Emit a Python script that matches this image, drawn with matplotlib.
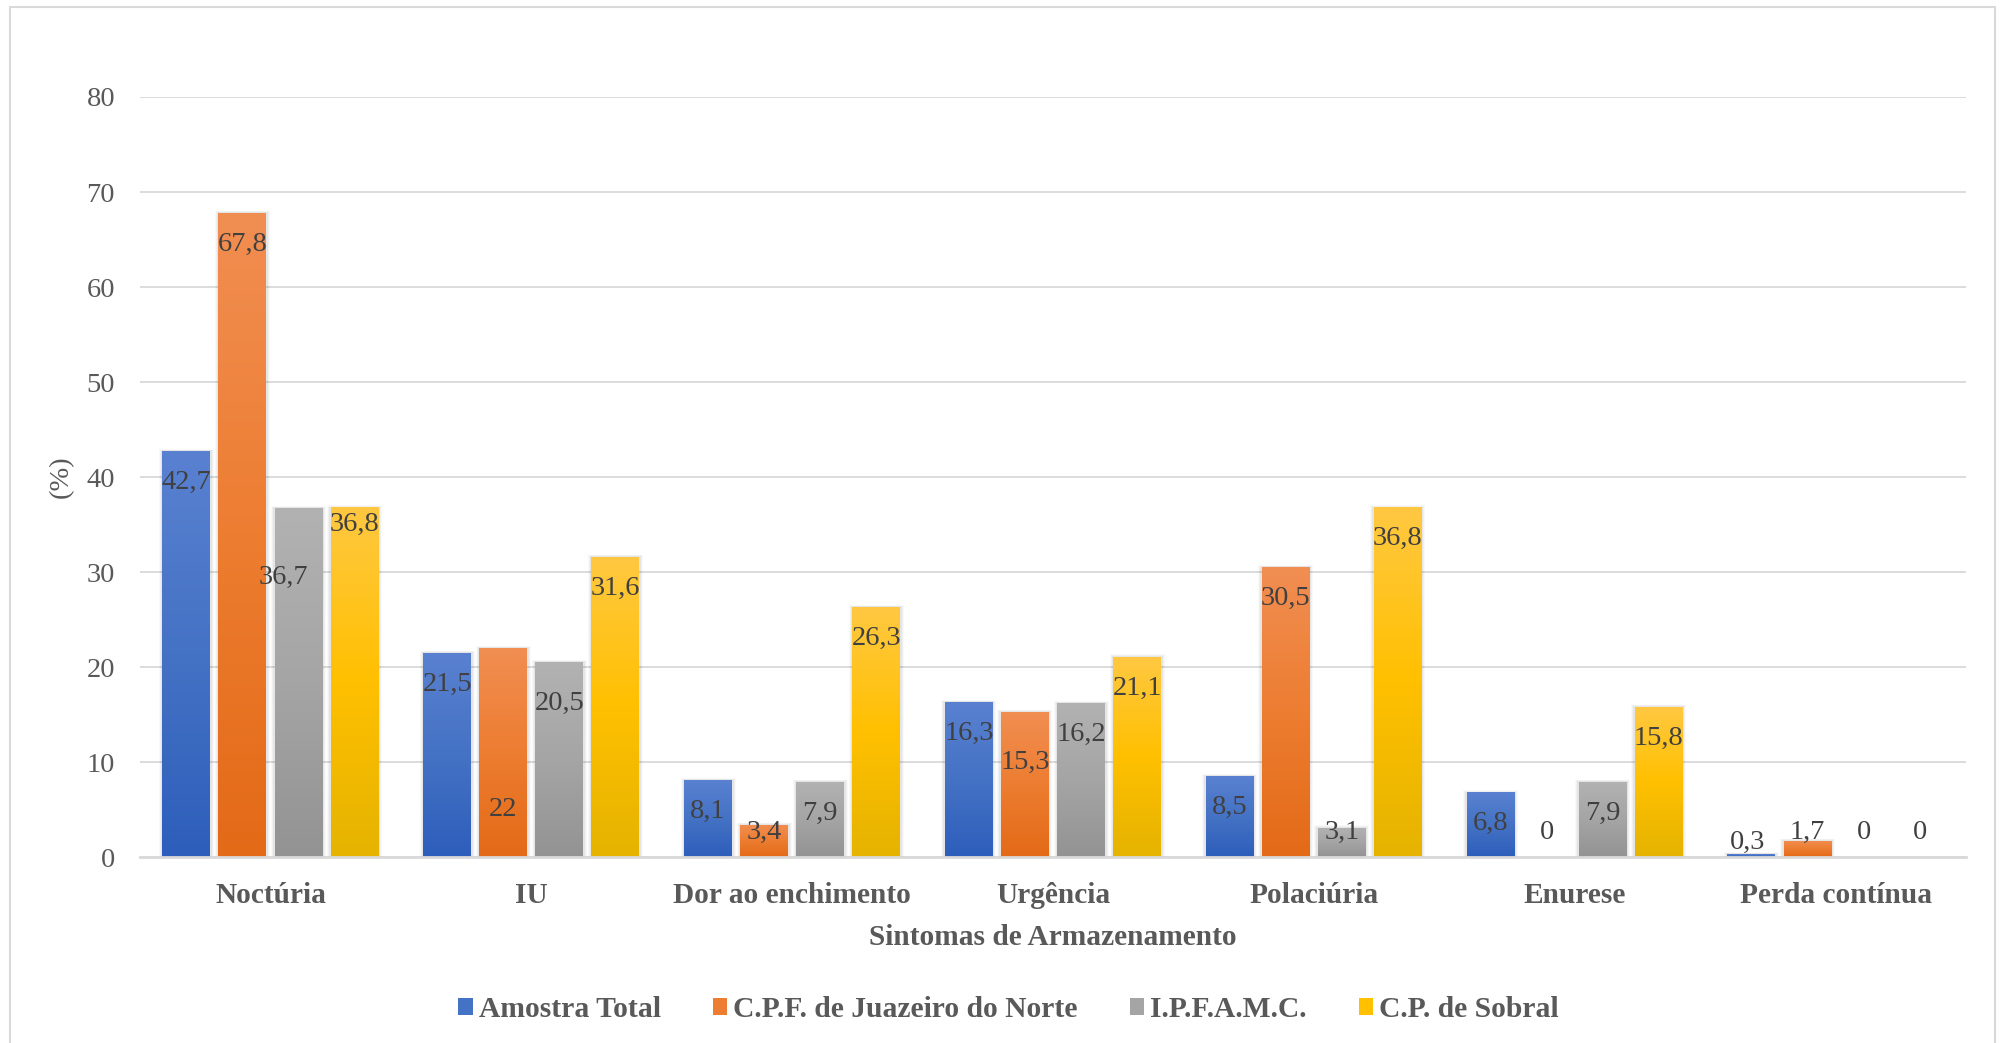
import matplotlib
matplotlib.use("Agg")
import matplotlib.pyplot as plt
import numpy as np
from matplotlib.colors import LinearSegmentedColormap
from matplotlib.patches import Rectangle, Patch

plt.rcParams['font.family'] = ['Liberation Serif', 'DejaVu Serif']

# Dados (%)
categorias = ['Noctúria', 'IU', 'Dor ao enchimento', 'Urgência',
              'Polaciúria', 'Enurese', 'Perda contínua']
amostra_total = [42.7, 21.5, 8.1, 16.3, 8.5, 6.8, 0.3]
cpf_juazeiro = [67.8, 22, 3.4, 15.3, 30.5, 0, 1.7]
ipfamc = [36.7, 20.5, 7.9, 16.2, 3.1, 7.9, 0]
cp_sobral = [36.8, 31.6, 26.3, 21.1, 36.8, 15.8, 0]
series_nomes = ['Amostra Total', 'C.P.F. de Juazeiro do Norte',
                'I.P.F.A.M.C.', 'C.P. de Sobral']
yticks = [0, 10, 20, 30, 40, 50, 60, 70, 80]

series = [amostra_total, cpf_juazeiro, ipfamc, cp_sobral]

# gradiente de cada série: topo, meio, base
gradientes = [
    ('#5A81D1', '#4472C4', '#2D5EBB'),
    ('#F18E52', '#ED7D31', '#E36A17'),
    ('#B2B2B2', '#A5A5A5', '#939393'),
    ('#FFC842', '#FFC000', '#E5B300'),
]

# rótulos posicionados à mão no gráfico original (posição y, deslocamento x)
rotulo_manual = {
    (0, 2): (29.4, -0.057),
    (0, 3): (35.0, 0.0),
    (1, 1): (5.05, 0.0),
    (1, 2): (16.2, 0.0),
    (3, 1): (10.0, 0.0),
    (6, 0): (1.55, -0.015),
}

texto_cinza = '#595959'
grade = '#D9D9D9'
fs = 20.5
fs_b = 21.2

fig = plt.figure(figsize=(20.01, 10.43), dpi=100)
ax = fig.add_axes([0.070, 0.1783, 0.9125, 0.7287])

# moldura do gráfico
fig.patches.append(Rectangle((0.005, -0.01), 0.992, 1.0033, transform=fig.transFigure,
                             fill=False, edgecolor=grade, linewidth=1.5))

x = np.arange(len(categorias))
largura = 0.184
passo = 0.215
px_x = 1 / 260.9
px_y = 1 / 9.5

for i, (valores, cores) in enumerate(zip(series, gradientes)):
    pos = x + (i - 1.5) * passo
    barras = ax.bar(pos, valores, width=largura, color=cores[1], zorder=3,
                    linewidth=0)
    cmap = LinearSegmentedColormap.from_list('g%d' % i, [cores[2], cores[1], cores[0]])
    grad = np.linspace(0, 1, 256).reshape(-1, 1)
    for j, b in enumerate(barras):
        h = b.get_height()
        if h <= 0:
            continue
        x0 = b.get_x()
        # sombra suave
        for k, a in zip([7, 5, 3], [0.025, 0.035, 0.045]):
            ax.add_patch(Rectangle((x0 - k * px_x * 0.5, 0), largura + k * px_x,
                                   h + k * px_y * 0.3, color='black', alpha=a,
                                   linewidth=0, zorder=2))
        im = ax.imshow(grad, extent=(x0, x0 + largura, 0, h), origin='lower',
                       cmap=cmap, aspect='auto', zorder=4, interpolation='bilinear')
        im.set_clip_path(b)
    # rótulos de valor
    for j, v in enumerate(valores):
        ylab, dx = rotulo_manual.get((j, i), (max(v - 3.3, 2.6), 0.0))
        ax.text(pos[j] + dx, ylab, f'{v:g}'.replace('.', ','), ha='center',
                va='center', fontsize=fs, color='#404040', zorder=6)

ax.set_xlim(-0.5, len(categorias) - 0.5)
ax.set_ylim(0, 80)
ax.set_yticks(yticks)
ax.set_xticks(x)
ax.set_xticklabels(categorias, fontweight='bold', fontsize=fs_b)
ax.tick_params(axis='y', length=0, labelsize=fs, labelcolor=texto_cinza, pad=18)
ax.tick_params(axis='x', length=0, labelcolor=texto_cinza, pad=18)
ax.grid(axis='y', color=grade, linewidth=1.3, zorder=0)
ax.set_axisbelow(True)
for s in ['top', 'right', 'left']:
    ax.spines[s].set_visible(False)
ax.spines['bottom'].set_color(grade)
ax.spines['bottom'].set_linewidth(2)
ax.spines['bottom'].set_zorder(5)

ax.set_xlabel('Sintomas de Armazenamento', fontsize=fs_b, fontweight='bold',
              color=texto_cinza, va='center')
ax.xaxis.set_label_coords(0.5, -0.106)
ax.set_ylabel('(%)', fontsize=fs, color=texto_cinza, va='center')
ax.yaxis.set_label_coords(-0.043, 0.5)

handles = [Patch(facecolor=c[1], edgecolor='none') for c in gradientes]
leg = fig.legend(handles, series_nomes, loc='center', bbox_to_anchor=(0.504, 0.032),
                 ncol=4, frameon=False, handlelength=0.5, handleheight=0.5,
                 handletextpad=0.2, columnspacing=1.75,
                 prop={'size': 21.3, 'weight': 'bold'})
for t in leg.get_texts():
    t.set_color(texto_cinza)

fig.savefig('out.png', dpi=100, facecolor='white')
